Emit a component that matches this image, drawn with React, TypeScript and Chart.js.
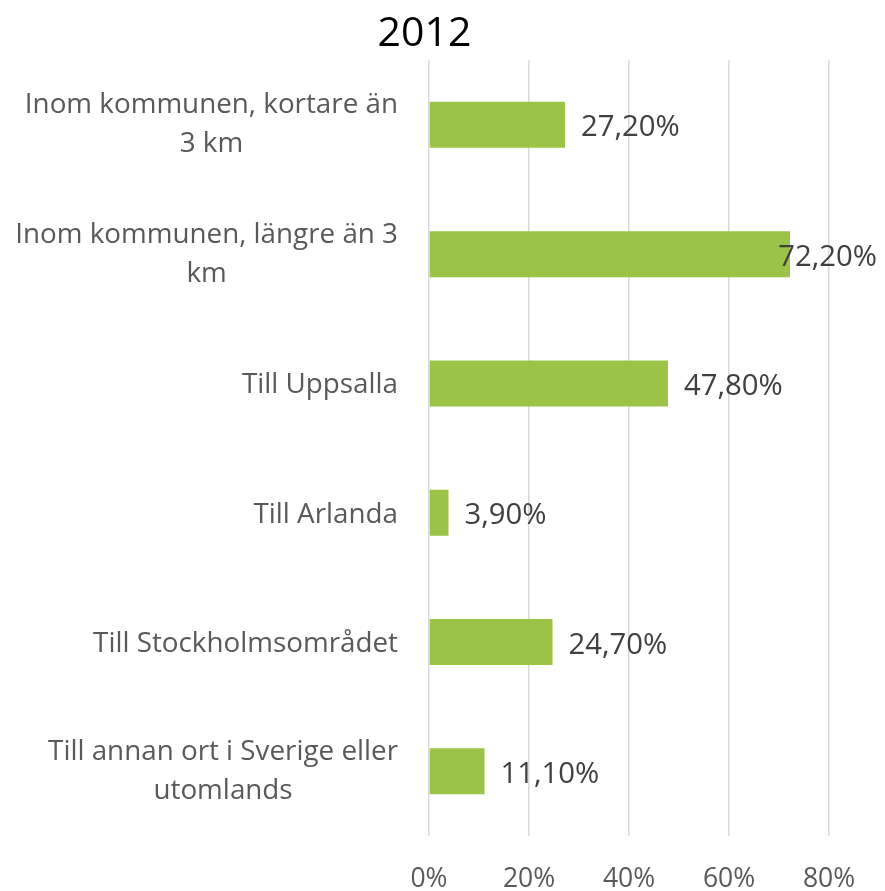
import React, { useEffect, useRef } from "react";
import { Chart, registerables } from "chart.js";

Chart.register(...registerables);

const title = "2012";
const categories: string[][] = [
  ["Inom kommunen, kortare än", "3 km"],
  ["Inom kommunen, längre än 3", "km"],
  ["Till Uppsalla"],
  ["Till Arlanda"],
  ["Till Stockholmsområdet"],
  ["Till annan ort i Sverige eller", "utomlands"],
];
const values = [27.2, 72.2, 47.8, 3.9, 24.7, 11.1];
const xMin = 0;
const xMax = 80;
const xStep = 20;

const FONT = "'Open Sans'";
const W = 885;
const H = 891;

const fmt = (v: number) => v.toFixed(2).replace(".", ",") + "%";

const dataLabelPlugin = {
  id: "dataLabels",
  afterDatasetsDraw(chart: any) {
    const ctx = chart.ctx as CanvasRenderingContext2D;
    const meta = chart.getDatasetMeta(0);
    const size = 29.3;
    ctx.save();
    ctx.font = `${size}px ${FONT}`;
    ctx.fillStyle = "#404040";
    ctx.textBaseline = "alphabetic";
    ctx.textAlign = "left";
    meta.data.forEach((bar: any, i: number) => {
      const txt = fmt(values[i]);
      const w = ctx.measureText(txt).width;
      let x = bar.x + 16;
      x = Math.min(x, chart.width - 8 - w);
      ctx.fillText(txt, x, bar.y + size * 0.714 / 2 + 1);
    });
    ctx.restore();
  },
};

const categoryLabelPlugin = {
  id: "categoryLabels",
  afterDraw(chart: any) {
    const ctx = chart.ctx as CanvasRenderingContext2D;
    const yScale = chart.scales.y;
    const size = 27.8;
    const lh = 39;
    const right = chart.chartArea.left - 31;
    ctx.save();
    ctx.font = `${size}px ${FONT}`;
    ctx.fillStyle = "#595959";
    ctx.textBaseline = "alphabetic";
    ctx.textAlign = "center";
    categories.forEach((lines, i) => {
      const y = yScale.getPixelForValue(i);
      const bw = Math.max(...lines.map((l) => ctx.measureText(l).width));
      const cx = right - bw / 2;
      const n = lines.length;
      lines.forEach((l, k) => {
        const base = y - ((n - 1) * lh) / 2 + k * lh + (size * 0.714) / 2 - (n > 1 ? 2 : 0);
        ctx.fillText(l, cx, base);
      });
    });
    ctx.restore();
  },
};

export default function App() {
  const ref = useRef<HTMLCanvasElement | null>(null);
  useEffect(() => {
    if (!ref.current) return;
    const chart = new Chart(ref.current, {
      type: "bar",
      data: {
        labels: categories.map((l) => l.join(" ")),
        datasets: [
          {
            data: values,
            backgroundColor: "#9BC348",
            borderWidth: 0,
            barPercentage: 0.356,
            categoryPercentage: 1,
          },
        ],
      },
      options: {
        indexAxis: "y",
        responsive: false,
        animation: false,
        layout: { padding: { left: 20, right: 56, top: 0, bottom: 0 } },
        plugins: {
          legend: { display: false },
          tooltip: { enabled: false },
          title: {
            display: true,
            text: title,
            color: "#000000",
            font: { family: FONT, size: 41, weight: "normal" },
            padding: { top: 10, bottom: 1 },
          },
        },
        scales: {
          x: {
            min: xMin,
            max: xMax,
            grid: { color: "#D9D9D9", lineWidth: 1.5, drawTicks: false },
            border: { display: false },
            ticks: {
              stepSize: xStep,
              padding: 28,
              color: "#595959",
              font: { family: FONT, size: 26.5 },
              callback: (v: any) => v + "%",
            },
            afterFit: (s: any) => {
              s.height = 55;
            },
          },
          y: {
            grid: { display: false, drawTicks: false },
            border: { display: false },
            ticks: { display: false },
            afterFit: (s: any) => {
              s.width = 409;
            },
          },
        },
      },
      plugins: [dataLabelPlugin, categoryLabelPlugin],
    });
    return () => chart.destroy();
  }, []);
  return (
    <div style={{ position: "absolute", left: 0, top: 0, width: W, height: H, background: "#fff" }}>
      <canvas ref={ref} width={W} height={H} />
    </div>
  );
}
